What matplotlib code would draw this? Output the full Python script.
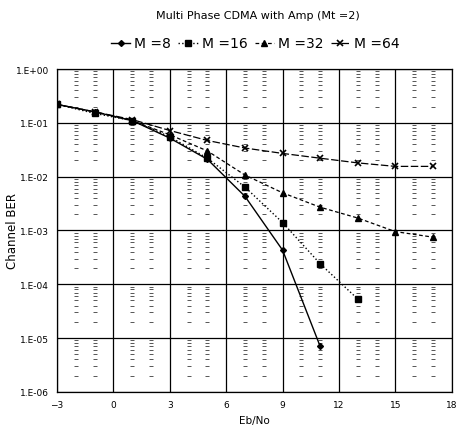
import numpy as np
import matplotlib
matplotlib.use('Agg')
import matplotlib.pyplot as plt
from matplotlib.ticker import FixedLocator, FuncFormatter

# Eb/No points (dB)
ebno_8 = [-3, -1, 1, 3, 5, 7, 9, 11]
ber_8 = [0.22, 0.16, 0.11, 0.052, 0.021, 4.3e-3, 4.3e-4, 7e-6]

ebno_16 = [-3, -1, 1, 3, 5, 7, 9, 11, 13]
ber_16 = [0.22, 0.15, 0.11, 0.055, 0.022, 6.4e-3, 1.4e-3, 2.4e-4, 5.3e-5]

ebno_32 = [-3, -1, 1, 3, 5, 7, 9, 11, 13, 15, 17]
ber_32 = [0.22, 0.16, 0.11, 0.06, 0.03, 1.07e-2, 5e-3, 2.7e-3, 1.7e-3, 9.5e-4, 7.5e-4]

ebno_64 = [-3, -1, 1, 3, 5, 7, 9, 11, 13, 15, 17]
ber_64 = [0.22, 0.16, 0.115, 0.072, 0.047, 0.034, 0.027, 0.022, 0.018, 0.0155, 0.0155]

labels = ['M =8', 'M =16', 'M =32', 'M =64']

fig = plt.figure(figsize=(4.6, 4.35), dpi=100)
ax = fig.add_axes([0.124, 0.097, 0.858, 0.742])

xmin, xmax = -3, 18
ax.set_xlim(xmin, xmax)
ax.set_yscale('log')
ax.set_ylim(1e-6, 1)

# major grid
ax.set_xticks(range(-3, 19, 3))
ax.set_yticks([10.0 ** k for k in range(-6, 1)])
ax.yaxis.set_minor_locator(FixedLocator([]))
ax.grid(True, which='major', color='black', lw=0.9)

# minor grid: little dashes at each integer x and 2..9 per decade
gx, gy = [], []
for x in range(xmin, xmax + 1):
    if x % 3 == 0:
        continue
    for d in range(-6, 0):
        for k in range(2, 10):
            gx.append(x)
            gy.append(k * 10.0 ** d)
ax.plot(gx, gy, ls='none', marker='_', ms=3, mew=0.7, color='#555555', zorder=1)

ax.plot(ebno_8, ber_8, '-', color='black', marker='D', ms=3, lw=1.0, label=labels[0], zorder=3)
ax.plot(ebno_16, ber_16, ':', color='black', marker='s', ms=4, lw=1.0, label=labels[1], zorder=3)
ax.plot(ebno_32, ber_32, ls=(0, (3, 2)), color='black', marker='^', ms=4, lw=0.9, label=labels[2], zorder=3)
ax.plot(ebno_64, ber_64, ls=(0, (6, 2)), color='black', marker='x', ms=4, mew=1.2, lw=0.9, label=labels[3], zorder=3)

ax.yaxis.set_major_formatter(FuncFormatter(
    lambda v, p: '1.E%+03d' % int(round(np.log10(v)))))
ax.tick_params(axis='both', which='major', length=0, labelsize=6.5, pad=6)
ax.tick_params(axis='both', which='minor', length=0)
for s in ax.spines.values():
    s.set_linewidth(0.9)

ax.set_xlabel('Eb/No', fontsize=7.5, labelpad=4)
fig.text(0.028, 0.47, 'Channel BER', rotation=90, ha='center', va='center', fontsize=8.5)

fig.text(0.56, 0.963, 'Multi Phase CDMA with Amp (Mt =2)', ha='center', va='center', fontsize=8)
fig.legend(loc='center', bbox_to_anchor=(0.555, 0.898), ncol=4, frameon=False,
           fontsize=10, handlelength=1.4, handletextpad=0.3, columnspacing=0.5)

fig.savefig('out.png', dpi=100)
